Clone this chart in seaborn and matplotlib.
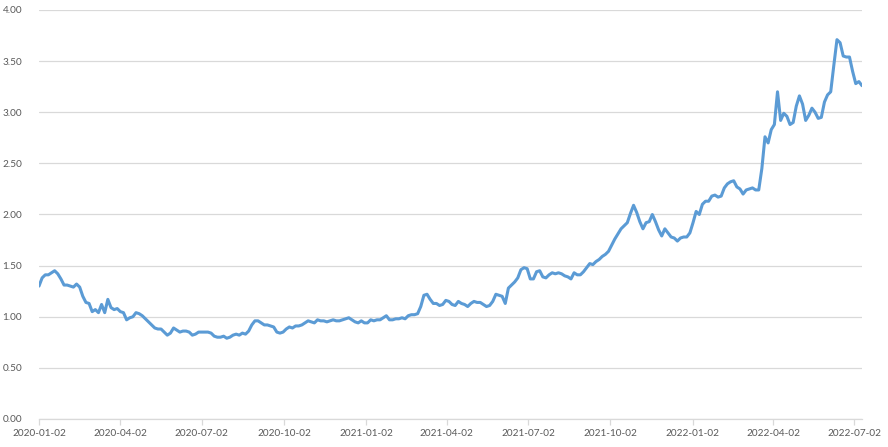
import pandas as pd
import numpy as np
import seaborn as sns
import matplotlib.pyplot as plt

# readings of the series every 3.5 days, starting 2020-01-02
start_date = '2020-01-02'
values = [
    1.30, 1.38, 1.41, 1.41, 1.43, 1.45, 1.42, 1.37, 1.31, 1.31,
    1.30, 1.29, 1.32, 1.29, 1.20, 1.14, 1.13, 1.05, 1.07, 1.04,
    1.12, 1.04, 1.17, 1.09, 1.07, 1.08, 1.05, 1.04, 0.97, 0.99,
    1.00, 1.04, 1.03, 1.01, 0.98, 0.95, 0.92, 0.89, 0.88, 0.88,
    0.85, 0.82, 0.84, 0.89, 0.87, 0.85, 0.86, 0.86, 0.85, 0.82,
    0.83, 0.85, 0.85, 0.85, 0.85, 0.84, 0.81, 0.80, 0.80, 0.81,
    0.79, 0.80, 0.82, 0.83, 0.82, 0.84, 0.83, 0.86, 0.92, 0.96,
    0.96, 0.94, 0.92, 0.92, 0.91, 0.90, 0.85, 0.84, 0.85, 0.88,
    0.90, 0.89, 0.91, 0.91, 0.92, 0.94, 0.96, 0.95, 0.94, 0.97,
    0.96, 0.96, 0.95, 0.96, 0.97, 0.96, 0.96, 0.97, 0.98, 0.99,
    0.97, 0.95, 0.94, 0.96, 0.94, 0.94, 0.97, 0.96, 0.97, 0.97,
    0.99, 1.01, 0.97, 0.97, 0.98, 0.98, 0.99, 0.98, 1.01, 1.02,
    1.02, 1.03, 1.10, 1.21, 1.22, 1.17, 1.13, 1.13, 1.11, 1.12,
    1.16, 1.15, 1.12, 1.11, 1.15, 1.13, 1.12, 1.10, 1.13, 1.15,
    1.14, 1.14, 1.12, 1.10, 1.11, 1.15, 1.22, 1.21, 1.20, 1.13,
    1.28, 1.31, 1.34, 1.38, 1.46, 1.48, 1.47, 1.37, 1.37, 1.44,
    1.45, 1.39, 1.38, 1.41, 1.43, 1.42, 1.43, 1.42, 1.40, 1.39,
    1.37, 1.43, 1.41, 1.41, 1.44, 1.48, 1.52, 1.51, 1.54, 1.56,
    1.59, 1.61, 1.64, 1.70, 1.76, 1.81, 1.86, 1.89, 1.92, 2.01,
    2.09, 2.02, 1.93, 1.86, 1.92, 1.93, 2.00, 1.93, 1.85, 1.79,
    1.86, 1.82, 1.78, 1.77, 1.74, 1.77, 1.78, 1.78, 1.82, 1.92,
    2.03, 2.00, 2.10, 2.13, 2.13, 2.18, 2.19, 2.17, 2.18, 2.26,
    2.30, 2.32, 2.33, 2.27, 2.25, 2.20, 2.24, 2.25, 2.26, 2.24,
    2.24, 2.45, 2.76, 2.70, 2.83, 2.88, 3.20, 2.92, 2.99, 2.96,
    2.88, 2.90, 3.06, 3.16, 3.08, 2.92, 2.97, 3.04, 3.00, 2.94,
    2.95, 3.10, 3.17, 3.20, 3.46, 3.71, 3.68, 3.55, 3.54, 3.54,
    3.40, 3.28, 3.30, 3.26,
]
tick_labels = ['2020-01-02', '2020-04-02', '2020-07-02', '2020-10-02', '2021-01-02',
               '2021-04-02', '2021-07-02', '2021-10-02', '2022-01-02', '2022-04-02',
               '2022-07-02']
y_ticks = [0, 0.5, 1.0, 1.5, 2.0, 2.5, 3.0, 3.5, 4.0]

df = pd.DataFrame({
    'date': pd.date_range(start_date, periods=len(values), freq='84h'),
    'value': values,
})

sns.set_style('white')
plt.rcParams['font.family'] = ['Lato', 'DejaVu Sans']

fig = plt.figure(figsize=(8.88, 4.47), dpi=100)
ax = fig.add_axes([39 / 888, 28 / 447, 823 / 888, 409 / 447])

sns.lineplot(data=df, x='date', y='value', ax=ax, color='#5B9BD5', linewidth=2.2)

ax.set_ylim(0, 4)
ax.set_xlim(df['date'].iloc[0], df['date'].iloc[-1])
ax.set_yticks(y_ticks)
ax.set_yticklabels([f'{v:.2f}' for v in y_ticks])
ax.set_xticks(pd.to_datetime(tick_labels))
ax.set_xticklabels(tick_labels)
ax.set_xlabel('')
ax.set_ylabel('')

ax.grid(axis='y', color='#D9D9D9', linewidth=0.9)
ax.grid(axis='x', visible=False)
ax.set_axisbelow(True)
for side in ['top', 'right', 'left']:
    ax.spines[side].set_visible(False)
ax.spines['bottom'].set_color('#D9D9D9')
ax.spines['bottom'].set_linewidth(0.9)

ax.tick_params(axis='x', colors='#595959', labelsize=7.2, length=4, width=0.9,
               color='#D9D9D9', pad=3, bottom=True)
ax.tick_params(axis='y', colors='#595959', labelsize=7.2, length=0, pad=12)

plt.savefig('out.png', dpi=100)
